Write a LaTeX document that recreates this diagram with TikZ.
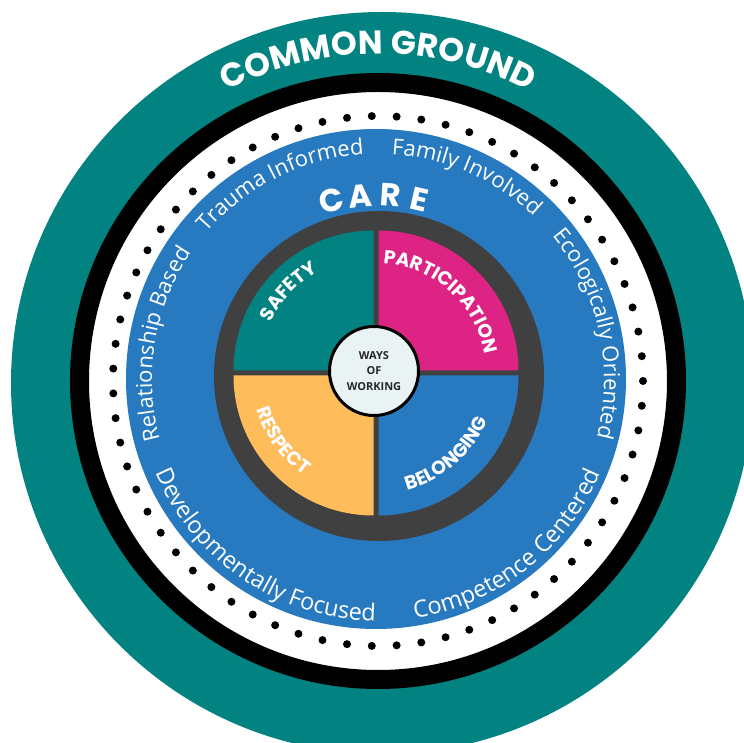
\documentclass[tikz,border=0pt]{standalone}
\usepackage{fontspec}
\setmainfont{Open Sans}
\newfontfamily\headfont{Poppins}
\usetikzlibrary{decorations.text}

\definecolor{groundteal}{RGB}{2,130,129}
\definecolor{careblue}{RGB}{39,121,192}
\definecolor{wheelgray}{RGB}{64,64,64}
\definecolor{partpink}{RGB}{221,35,131}
\definecolor{respgold}{RGB}{254,188,90}
\definecolor{waysfill}{RGB}{234,243,243}

\newcommand{\ringfont}{\color{white}\fontsize{22}{22}\selectfont}
\newcommand{\lowringfont}{\color{white}\fontsize{23.5}{23.5}\selectfont}
\newcommand{\quadfont}{\color{white}\headfont\bfseries\fontsize{19}{19}\selectfont}
\newcommand{\groundfont}{\color{white}\headfont\bfseries\fontsize{33}{33}\selectfont}

\tikzset{
  arctext/.style={decorate, decoration={text along path, text align=center, text={#1}}},
  careletter/.style={text=white, font=\headfont\bfseries\fontsize{32}{32}\selectfont, inner sep=0pt},
}

\begin{document}
\begin{tikzpicture}[x=1pt, y=1pt]
\useasboundingbox (-378,-363) rectangle (366,380);
\clip (-378,-363) rectangle (366,380);
% rings
\draw[fill=groundteal, draw=none] (4,-3) circle [radius=371];
\draw[fill=white, draw=black, line width=19] (0,-1) circle [radius=298.5];
\foreach \k in {0,...,66}
  \fill[black] (0,-1) ++({360/67*\k}:265) circle [radius=4];
\draw[fill=careblue, draw=none] (-2,1) circle [radius=250];
\draw[fill=wheelgray, draw=none] (1,4) circle [radius=165];
% quarters
\begin{scope}[shift={(-2,7)}]
\fill[groundteal] (-2.5,2.5) -- ++(180:140) arc[start angle=180, end angle=90, radius=140] -- cycle;
\fill[partpink] (2.5,2.5) -- ++(90:140) arc[start angle=90, end angle=0, radius=140] -- cycle;
\fill[respgold] (-2.5,-2.5) -- ++(180:140) arc[start angle=180, end angle=270, radius=140] -- cycle;
\fill[careblue] (2.5,-2.5) -- ++(270:140) arc[start angle=270, end angle=360, radius=140] -- cycle;
\path[arctext={|\quadfont|SAFETY}] (197:117) arc[start angle=197, end angle=77, radius=117];
\path[arctext={|\quadfont|PARTICIPATION}] (108:110) arc[start angle=108, end angle=-12, radius=110];
\path[arctext={|\quadfont|RESPECT}] (156:125) arc[start angle=156, end angle=276, radius=125];
\path[arctext={|\quadfont|BELONGING}] (251:121) arc[start angle=251, end angle=371, radius=121];
\end{scope}
\node[circle, draw=black, line width=3, fill=waysfill, minimum size=89pt, inner sep=0pt,
  align=center, text=black!85, font=\bfseries\fontsize{11}{15.5}\selectfont] (ways) at (-4,9) {WAYS\\OF\\WORKING};
% texts
\path[arctext={|\groundfont|COMMON GROUND}] (150:326) arc[start angle=150, end angle=30, radius=326];
\foreach \ch [count=\i] in {C,A,R,E}
  \node[careletter, rotate={0.8+9.2*(2.5-\i)}] (care\i) at ({90.8+9.2*(2.5-\i)}:185) {\ch};
\path[arctext={|\ringfont|Trauma Informed}] (176.5:226) arc[start angle=176.5, end angle=56.5, radius=226];
\path[arctext={|\ringfont|Family Involved}] (126.5:226) arc[start angle=126.5, end angle=6.5, radius=226];
\path[arctext={|\ringfont|Ecologically Oriented}] (72.5:226) arc[start angle=72.5, end angle=-47.5, radius=226];
\path[arctext={|\ringfont|Relationship Based}] (230.5:226) arc[start angle=230.5, end angle=110.5, radius=226];
\path[arctext={|\lowringfont|Competence Centered}] (248:241) arc[start angle=248, end angle=368, radius=241];
\path[arctext={|\lowringfont|Developmentally Focused}] (176:241) arc[start angle=176, end angle=296, radius=241];
\end{tikzpicture}
\end{document}
